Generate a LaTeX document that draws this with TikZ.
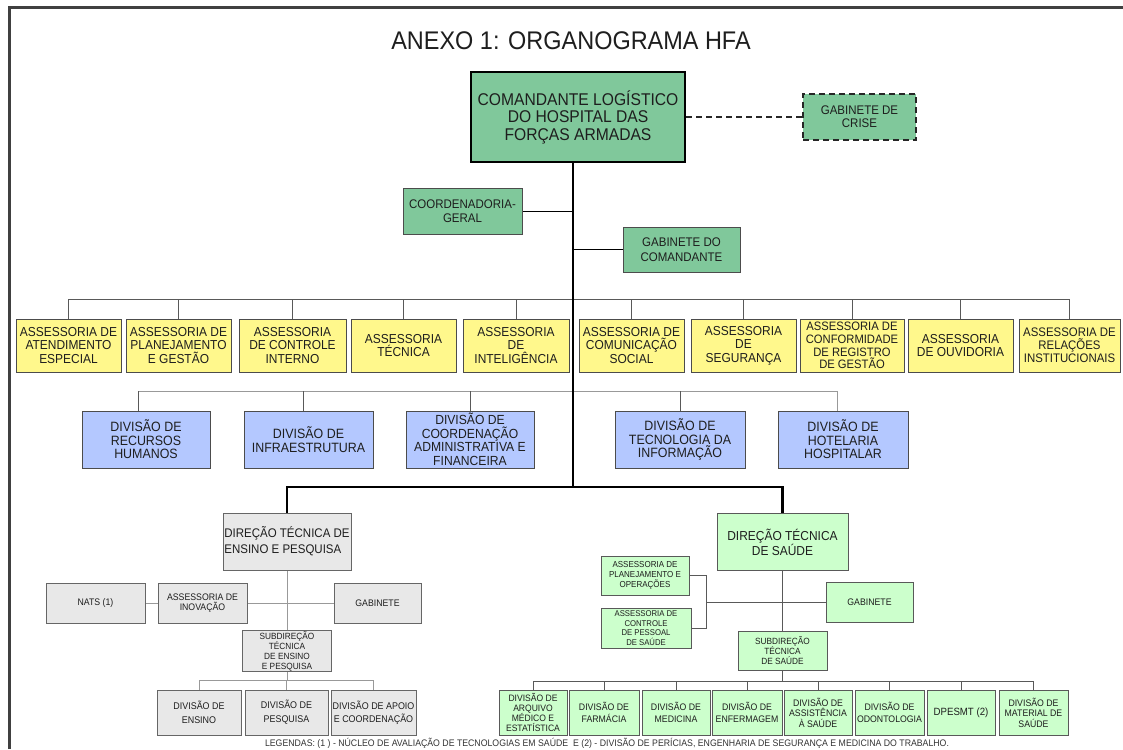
\documentclass[tikz,border=0pt]{standalone}
\usepackage{fontspec}
\setmainfont{Liberation Sans}[FakeStretch=0.92]
\usetikzlibrary{backgrounds}
\definecolor{cmdg}{RGB}{128,200,155}
\definecolor{yel}{RGB}{255,248,140}
\definecolor{blu}{RGB}{180,200,255}
\definecolor{gry}{RGB}{232,232,232}
\definecolor{lgr}{RGB}{204,255,204}
\definecolor{txt}{RGB}{30,30,30}
\newcommand{\fs}[2]{\fontsize{#1}{#2}\selectfont}
\tikzset{
  base/.style={rectangle, inner sep=1pt, align=center, text=txt, line width=0.8pt},
  cmdbox/.style={base, fill=cmdg, draw=black, line width=2.2pt, font=\fs{17}{17.5}},
  grbox/.style={base, fill=cmdg, draw=black!70, font=\fs{12.5}{13.5}},
  crisebox/.style={base, fill=cmdg, draw=black!85, line width=2pt, dash pattern=on 6pt off 4pt, font=\fs{12.5}{13}},
  yelbox/.style={base, fill=yel, draw=black!70, font=\fs{13}{13.5}},
  bluebox/.style={base, fill=blu, draw=black!70, font=\fs{13.5}{13.5}},
  graybox/.style={base, fill=gry, draw=black!60},
  lgbox/.style={base, fill=lgr, draw=black!65},
  trunkline/.style={line width=2.2pt, black},
  thinline/.style={line width=0.8pt, black!65},
  lightline/.style={line width=0.8pt, black!40},
  frameline/.style={line width=2.8pt, black!75},
}
\begin{document}
\begin{tikzpicture}[x=1pt,y=-1pt]
\useasboundingbox (0,0) rectangle (1123,749);
\draw[frameline] (9.5,749) -- (9.5,7.5) -- (1123,7.5);

\node[font=\fs{25.5}{26}, text=txt] (title) at (571,41) {ANEXO 1: ORGANOGRAMA HFA};

% top
\node[cmdbox, minimum width=214pt, minimum height=90pt] (cmd) at (578,117) {COMANDANTE LOGÍSTICO\\DO HOSPITAL DAS\\FORÇAS ARMADAS};
\node[crisebox, minimum width=113pt, minimum height=46pt] (crise) at (859.5,117) {GABINETE DE\\CRISE};
\node[grbox, minimum width=119pt, minimum height=46pt] (coord) at (462.5,211) {COORDENADORIA-\\GERAL};
\node[grbox, minimum width=117pt, minimum height=45pt, font=\fs{12.5}{15}] (gabcmd) at (681.5,249.5) {GABINETE DO\\COMANDANTE};

\coordinate (trunk) at (573,487);
\coordinate (abar) at (0,299);
\coordinate (dbar) at (0,391);

% assessorias
\node[yelbox, minimum width=105pt, minimum height=53pt] (a1) at (68.5,345.5) {ASSESSORIA DE\\ATENDIMENTO\\ESPECIAL};
\node[yelbox, minimum width=105pt, minimum height=53pt] (a2) at (178.5,345.5) {ASSESSORIA DE\\PLANEJAMENTO\\E GESTÃO};
\node[yelbox, minimum width=107pt, minimum height=53pt] (a3) at (292.5,345.5) {ASSESSORIA\\DE CONTROLE\\INTERNO};
\node[yelbox, minimum width=105pt, minimum height=53pt] (a4) at (403.5,345.5) {ASSESSORIA\\TÉCNICA};
\node[yelbox, minimum width=106pt, minimum height=53pt] (a5) at (516,345.5) {ASSESSORIA\\DE\\INTELIGÊNCIA};
\node[yelbox, minimum width=105pt, minimum height=53pt] (a6) at (631.5,345.5) {ASSESSORIA DE\\COMUNICAÇÃO\\SOCIAL};
\node[yelbox, minimum width=105pt, minimum height=53pt] (a7) at (743.5,345.5) {ASSESSORIA\\DE\\SEGURANÇA};
\node[yelbox, minimum width=104pt, minimum height=53pt, font=\fs{12.2}{12.6}] (a8) at (852,345.5) {ASSESSORIA DE\\CONFORMIDADE\\DE REGISTRO\\DE GESTÃO};
\node[yelbox, minimum width=105pt, minimum height=53pt] (a9) at (960.5,345.5) {ASSESSORIA\\DE OUVIDORIA};
\node[yelbox, minimum width=101pt, minimum height=53pt, font=\fs{12.4}{13}] (a10) at (1069.5,345.5) {ASSESSORIA DE\\RELAÇÕES\\INSTITUCIONAIS};

% divisions
\node[bluebox, minimum width=128pt, minimum height=57pt] (d1) at (146,439.5) {DIVISÃO DE\\RECURSOS\\HUMANOS};
\node[bluebox, minimum width=129pt, minimum height=57pt] (d2) at (308.5,439.5) {DIVISÃO DE\\INFRAESTRUTURA};
\node[bluebox, minimum width=128pt, minimum height=57pt, font=\fs{13.2}{13.5}] (d3) at (470,439.5) {DIVISÃO DE\\COORDENAÇÃO\\ADMINISTRATIVA E\\FINANCEIRA};
\node[bluebox, minimum width=130pt, minimum height=57pt] (d4) at (680,439.5) {DIVISÃO DE\\TECNOLOGIA DA\\INFORMAÇÃO};
\node[bluebox, minimum width=130pt, minimum height=57pt] (d5) at (843,439.5) {DIVISÃO DE\\HOTELARIA\\HOSPITALAR};

% directions
\node[graybox, minimum width=128pt, minimum height=57pt, font=\fs{12.5}{16}, align=left] (dtep) at (287,541.5) {DIREÇÃO TÉCNICA DE\\ENSINO E PESQUISA};
\node[lgbox, minimum width=131pt, minimum height=57pt, font=\fs{13}{14}] (dts) at (782.5,542) {DIREÇÃO TÉCNICA\\DE SAÚDE};

% left group
\node[graybox, minimum width=99pt, minimum height=40pt, font=\fs{9.5}{10.5}] (nats) at (95.5,603) {NATS (1)};
\node[graybox, minimum width=89pt, minimum height=40pt, font=\fs{9.5}{10.5}] (inov) at (202.5,603) {ASSESSORIA DE\\INOVAÇÃO};
\node[graybox, minimum width=87pt, minimum height=40pt, font=\fs{9.5}{10.5}] (gabL) at (377.5,603) {GABINETE};
\node[graybox, minimum width=89pt, minimum height=40pt, font=\fs{9}{9.6}] (sub) at (287,651) {SUBDIREÇÃO\\TÉCNICA\\DE ENSINO\\E PESQUISA};
\coordinate (lbar) at (0,680);
\node[graybox, minimum width=84pt, minimum height=45pt, font=\fs{9.7}{14}] (ens) at (199,712.5) {DIVISÃO DE\\ENSINO};
\node[graybox, minimum width=83pt, minimum height=45pt, font=\fs{9.7}{14}] (pes) at (286.5,712.5) {DIVISÃO DE\\PESQUISA};
\node[graybox, minimum width=85pt, minimum height=45pt, font=\fs{9.7}{13}] (apo) at (373.5,712.5) {DIVISÃO DE APOIO\\E COORDENAÇÃO};

% right group
\node[lgbox, minimum width=88pt, minimum height=39pt, font=\fs{8.7}{10}] (apo2) at (645,575.5) {ASSESSORIA DE\\PLANEJAMENTO E\\OPERAÇÕES};
\node[lgbox, minimum width=90pt, minimum height=40pt, font=\fs{8.4}{9.4}] (acp) at (646,628) {ASSESSORIA DE\\CONTROLE\\DE PESSOAL\\DE SAÚDE};
\coordinate (brk) at (706,602);
\node[lgbox, minimum width=87pt, minimum height=40pt, font=\fs{9.5}{10.5}] (gabR) at (869.5,602) {GABINETE};
\node[lgbox, minimum width=89pt, minimum height=39pt, font=\fs{9}{10}] (subR) at (782.5,650.5) {SUBDIREÇÃO\\TÉCNICA\\DE SAÚDE};
\coordinate (rbar) at (0,681);
\node[lgbox, minimum width=68pt, minimum height=45pt, font=\fs{9.3}{10}] (b1) at (533,712.5) {DIVISÃO DE\\ARQUIVO\\MÉDICO E\\ESTATÍSTICA};
\node[lgbox, minimum width=70pt, minimum height=45pt, font=\fs{9.5}{11.5}] (b2) at (604,712.5) {DIVISÃO DE\\FARMÁCIA};
\node[lgbox, minimum width=68pt, minimum height=45pt, font=\fs{9.5}{11.5}] (b3) at (676,712.5) {DIVISÃO DE\\MEDICINA};
\node[lgbox, minimum width=70pt, minimum height=45pt, font=\fs{9.5}{11.5}] (b4) at (747,712.5) {DIVISÃO DE\\ENFERMAGEM};
\node[lgbox, minimum width=68pt, minimum height=45pt, font=\fs{9.5}{10.5}] (b5) at (818,712.5) {DIVISÃO DE\\ASSISTÊNCIA\\À SAÚDE};
\node[lgbox, minimum width=69pt, minimum height=45pt, font=\fs{9.5}{11.5}] (b6) at (889.5,712.5) {DIVISÃO DE\\ODONTOLOGIA};
\node[lgbox, minimum width=68pt, minimum height=45pt, font=\fs{10.5}{11}] (b7) at (961,712.5) {DPESMT (2)};
\node[lgbox, minimum width=69pt, minimum height=45pt, font=\fs{9.5}{10.5}] (b8) at (1033.5,712.5) {DIVISÃO DE\\MATERIAL DE\\SAÚDE};

\node[font=\fs{9.5}{10}, text=black!80] (legend) at (607,743.5) {LEGENDAS: (1 ) - NÚCLEO DE AVALIAÇÃO DE TECNOLOGIAS EM SAÚDE\ \ E (2) - DIVISÃO DE PERÍCIAS, ENGENHARIA DE SEGURANÇA E MEDICINA DO TRABALHO.};

\begin{scope}[on background layer]
  \fill[white] (0,0) rectangle (1123,749);
  % dashed link to crise
  \draw[line width=1.8pt, black!85, dash pattern=on 6pt off 4pt] (cmd.east) -- (crise.west);
  % assessoria bar
  \draw[thinline] (a1.north |- abar) -- (a10.north |- abar);
  \foreach \i in {1,...,10} { \draw[thinline] (a\i.north) -- (a\i.north |- abar); }
  % division bar
  \draw[lightline] ([xshift=-8pt]d1.north |- dbar) -- ([xshift=-6pt]d5.north |- dbar);
  \draw[thinline] ([xshift=-8pt]d1.north) -- ([xshift=-8pt]d1.north |- dbar);
  \draw[thinline] ([xshift=-5pt]d2.north) -- ([xshift=-5pt]d2.north |- dbar);
  \draw[thinline] (d3.north) -- (d3.north |- dbar);
  \draw[thinline] (d4.north) -- (d4.north |- dbar);
  \draw[lightline] ([xshift=-6pt]d5.north) -- ([xshift=-6pt]d5.north |- dbar);
  % trunk
  \draw[trunkline] (cmd.south -| trunk) -- (trunk);
  \draw[line width=1pt] (coord.east) -- (coord.east -| trunk);
  \draw[line width=1pt] (gabcmd.west) -- (gabcmd.west -| trunk);
  \draw[trunkline] (dtep.north) -- (dtep.north |- trunk) -- (dts.north |- trunk) -- (dts.north);
  % left group
  \draw[lightline] (dtep.south) -- (sub.north);
  \draw[lightline] (nats.east) -- (gabL.west);
  \draw[lightline] (sub.south) -- (sub.south |- lbar);
  \draw[lightline] (ens.north |- lbar) -- (apo.north |- lbar);
  \foreach \n in {ens,pes,apo} { \draw[lightline] (\n.north) -- (\n.north |- lbar); }
  % right group
  \draw[thinline] (dts.south) -- (subR.north);
  \draw[thinline] (apo2.east) -- (apo2.east -| brk) -- (acp.east -| brk) -- (acp.east);
  \draw[thinline] (brk) -- (gabR.west);
  \draw[thinline] (subR.south) -- (subR.south |- rbar);
  \draw[thinline] (b1.north |- rbar) -- (b8.north |- rbar);
  \foreach \i in {1,...,8} { \draw[thinline] (b\i.north) -- (b\i.north |- rbar); }
\end{scope}
\end{tikzpicture}
\end{document}
